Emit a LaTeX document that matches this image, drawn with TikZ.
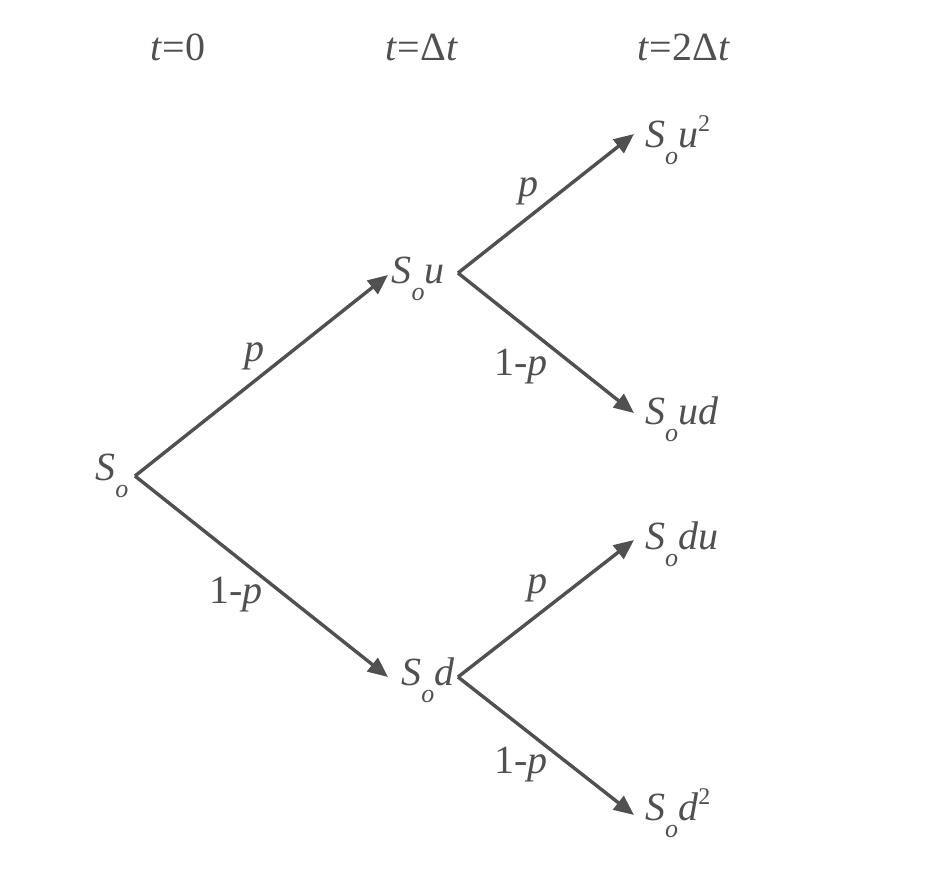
\documentclass[tikz,border=0pt]{standalone}
\usepackage{fontspec}
\setmainfont{Liberation Serif}
\usetikzlibrary{arrows.meta}
\definecolor{ink}{HTML}{505050}
\tikzset{
  edge/.style={draw=ink, line width=3.4pt, -{Triangle[length=20pt,width=17pt]}},
  lbl/.style={text=ink, font=\fontsize{40}{46}\selectfont, inner sep=0pt},
}
\newcommand{\So}{\textit{S}\raisebox{-0.42em}{\textit{\fontsize{26}{28}\selectfont o}}}
\newcommand{\sq}{\raisebox{0.42em}{\fontsize{24}{26}\selectfont 2}}
\begin{document}
\begin{tikzpicture}[x=1pt,y=-1pt]
\useasboundingbox (0,0) rectangle (938,875);
% headers
\node[lbl] (h0) at (178,47) {\textit{t}=0};
\node[lbl] (h1) at (422,47) {\textit{t}=Δ\textit{t}};
\node[lbl] (h2) at (684,47) {\textit{t}=2Δ\textit{t}};
% vertices and tips
\coordinate (r) at (135,476);
\coordinate (ua) at (388,275);
\coordinate (da) at (388,677);
\coordinate (uv) at (458,273);
\coordinate (dv) at (458,677);
\coordinate (uu) at (634,134);
\coordinate (ud) at (634,413);
\coordinate (du) at (634,540);
\coordinate (dd) at (634,815);
% texts
\node[lbl] (n0) at (112,476) {\So};
\node[lbl] (n1) at (418,279) {\So\textit{u}};
\node[lbl] (n2) at (428,680) {\So\textit{d}};
\node[lbl, anchor=west] (n3) at (645,140) {\So\textit{u}\sq};
\node[lbl, anchor=west] (n4) at (645,419) {\So\textit{ud}};
\node[lbl, anchor=west] (n5) at (645,544) {\So\textit{du}};
\node[lbl, anchor=west] (n6) at (645,813) {\So\textit{d}\sq};
% edges
\draw[edge] (r) -- (ua);
\draw[edge] (r) -- (da);
\draw[edge] (uv) -- (uu);
\draw[edge] (uv) -- (ud);
\draw[edge] (dv) -- (du);
\draw[edge] (dv) -- (dd);
% probabilities
\node[lbl] (p1) at (254,356) {\textit{p}};
\node[lbl] (q1) at (236,595) {1-\textit{p}};
\node[lbl] (p2) at (528,191) {\textit{p}};
\node[lbl] (q2) at (521,367) {1-\textit{p}};
\node[lbl] (p3) at (537,588) {\textit{p}};
\node[lbl] (q3) at (521,765) {1-\textit{p}};
\end{tikzpicture}
\end{document}
